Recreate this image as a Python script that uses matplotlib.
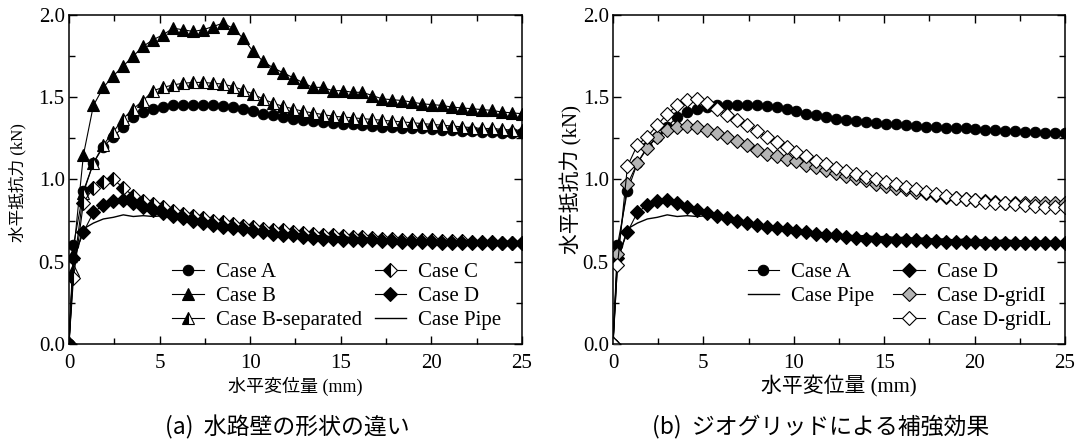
import matplotlib
matplotlib.use("Agg")
import matplotlib.pyplot as plt
from matplotlib.lines import Line2D
from matplotlib.ticker import MultipleLocator

plt.rcParams['font.family'] = ['Liberation Serif', 'Noto Sans CJK JP']

# 水平変位量 (mm) : 共通の計測点
disp = [0.0, 0.25, 0.8, 1.35, 1.9, 2.45, 3.0, 3.55, 4.1, 4.65, 5.2, 5.75, 6.3, 6.85,
        7.4, 7.95, 8.5, 9.05, 9.6, 10.15, 10.7, 11.25, 11.8, 12.35, 12.9, 13.45,
        14.0, 14.55, 15.1, 15.65, 16.2, 16.75, 17.3, 17.85, 18.4, 18.95, 19.5,
        20.05, 20.6, 21.15, 21.7, 22.25, 22.8, 23.35, 23.9, 24.45, 25.0]

# 水平抵抗力 (kN)
case_a = [0.0, 0.60, 0.93, 1.10, 1.20, 1.26, 1.32, 1.38, 1.41, 1.43, 1.44, 1.45, 1.45,
          1.455, 1.455, 1.45, 1.445, 1.44, 1.43, 1.415, 1.40, 1.39, 1.38, 1.37, 1.36,
          1.355, 1.35, 1.345, 1.34, 1.335, 1.33, 1.325, 1.32, 1.32, 1.315, 1.31, 1.31,
          1.305, 1.30, 1.30, 1.295, 1.295, 1.29, 1.29, 1.285, 1.285, 1.28]
case_b = [0.0, 0.55, 1.15, 1.45, 1.56, 1.63, 1.69, 1.75, 1.81, 1.85, 1.88, 1.92, 1.91,
          1.90, 1.91, 1.93, 1.95, 1.92, 1.86, 1.78, 1.72, 1.68, 1.65, 1.62, 1.59, 1.56,
          1.56, 1.54, 1.54, 1.53, 1.53, 1.51, 1.49, 1.485, 1.48, 1.47, 1.46, 1.455,
          1.45, 1.44, 1.435, 1.43, 1.425, 1.42, 1.41, 1.405, 1.40]
case_b_sep = [0.0, 0.45, 0.92, 1.10, 1.21, 1.29, 1.37, 1.43, 1.48, 1.54, 1.56, 1.575,
              1.585, 1.59, 1.59, 1.585, 1.58, 1.565, 1.545, 1.52, 1.49, 1.465, 1.445,
              1.43, 1.415, 1.405, 1.395, 1.385, 1.38, 1.375, 1.37, 1.365, 1.36, 1.355,
              1.35, 1.345, 1.34, 1.335, 1.33, 1.325, 1.32, 1.315, 1.31, 1.31, 1.305,
              1.30, 1.30]
case_c = [0.0, 0.40, 0.86, 0.95, 0.985, 1.00, 0.95, 0.90, 0.87, 0.85, 0.83, 0.81, 0.79,
          0.78, 0.765, 0.75, 0.74, 0.73, 0.72, 0.71, 0.70, 0.695, 0.69, 0.68, 0.675,
          0.67, 0.665, 0.66, 0.655, 0.65, 0.65, 0.645, 0.64, 0.64, 0.635, 0.635, 0.63,
          0.63, 0.625, 0.625, 0.625, 0.62, 0.62, 0.62, 0.615, 0.615, 0.615]
case_d = [0.0, 0.52, 0.68, 0.80, 0.845, 0.87, 0.875, 0.855, 0.835, 0.815, 0.795, 0.78,
          0.765, 0.75, 0.735, 0.725, 0.71, 0.705, 0.70, 0.685, 0.68, 0.67, 0.665, 0.66,
          0.65, 0.645, 0.64, 0.64, 0.635, 0.635, 0.63, 0.63, 0.625, 0.625, 0.62, 0.62,
          0.62, 0.62, 0.615, 0.615, 0.615, 0.615, 0.615, 0.615, 0.615, 0.615, 0.615]
case_pipe = [0.0, 0.50, 0.70, 0.735, 0.76, 0.77, 0.785, 0.775, 0.78, 0.775, 0.78, 0.765,
             0.76, 0.75, 0.735, 0.72, 0.71, 0.705, 0.695, 0.69, 0.685, 0.675, 0.675,
             0.665, 0.665, 0.655, 0.66, 0.65, 0.655, 0.645, 0.65, 0.64, 0.645, 0.635,
             0.64, 0.63, 0.64, 0.63, 0.635, 0.625, 0.635, 0.625, 0.63, 0.62, 0.63, 0.62,
             0.625]
case_d_grid_i = [0.0, 0.55, 0.97, 1.10, 1.19, 1.26, 1.30, 1.32, 1.325, 1.32, 1.30, 1.28,
                 1.26, 1.235, 1.21, 1.18, 1.155, 1.14, 1.125, 1.11, 1.09, 1.075, 1.055,
                 1.04, 1.02, 1.01, 0.995, 0.975, 0.96, 0.95, 0.94, 0.925, 0.915, 0.905,
                 0.895, 0.885, 0.88, 0.875, 0.87, 0.865, 0.86, 0.86, 0.86, 0.855, 0.855,
                 0.855, 0.855]
case_d_grid_l = [0.0, 0.48, 1.08, 1.21, 1.26, 1.33, 1.40, 1.45, 1.485, 1.49, 1.465, 1.43,
                 1.395, 1.36, 1.33, 1.295, 1.26, 1.23, 1.195, 1.165, 1.14, 1.115, 1.095,
                 1.07, 1.05, 1.035, 1.015, 1.0, 0.985, 0.97, 0.955, 0.94, 0.925, 0.91,
                 0.90, 0.89, 0.88, 0.875, 0.865, 0.86, 0.855, 0.85, 0.845, 0.84, 0.835,
                 0.835, 0.83]

line_kw = dict(color='black', lw=0.8, mec='black', mew=0.8)
leg_kw = dict(ncol=2, frameon=False, fontsize=15, handlelength=1.5, handletextpad=0.6,
              labelspacing=0.22, borderaxespad=0.25, loc='lower right')

fig = plt.figure(figsize=(10.79, 4.41), dpi=100)
ax1 = fig.add_axes([0.0639, 0.22, 0.4198, 0.746])
ax2 = fig.add_axes([0.5681, 0.22, 0.4189, 0.746])

# (a) 水路壁の形状の違い
ax1.plot(disp, case_a, marker='o', ms=7.5, mfc='black', label='Case A', **line_kw)
ax1.plot(disp, case_b, marker='^', ms=9, mfc='black', label='Case B', **line_kw)
ax1.plot(disp, case_b_sep, marker='^', ms=9, mfc='black', fillstyle='left',
         markerfacecoloralt='white', label='Case B-separated', **line_kw)
ax1.plot(disp, case_c, marker='D', ms=7, mfc='black', fillstyle='left',
         markerfacecoloralt='white', label='Case C', **line_kw)
ax1.plot(disp, case_d, marker='D', ms=7, mfc='black', label='Case D', **line_kw)
ax1.plot(disp, case_pipe, color='black', lw=1.0, label='Case Pipe')
ax1.legend(columnspacing=0.6, bbox_to_anchor=(0.985, 0.0), **leg_kw)

# (b) ジオグリッドによる補強効果
h_a, = ax2.plot(disp, case_a, marker='o', ms=7.5, mfc='black', **line_kw)
h_pipe, = ax2.plot(disp, case_pipe, color='black', lw=1.0)
h_d, = ax2.plot(disp, case_d, marker='D', ms=7, mfc='black', **line_kw)
h_i, = ax2.plot(disp, case_d_grid_i, marker='D', ms=7, mfc='#b4b4b4', **line_kw)
h_l, = ax2.plot(disp, case_d_grid_l, marker='D', ms=7, mfc='white', **line_kw)
blank = Line2D([], [], linestyle='none')
ax2.legend([h_a, h_pipe, blank, h_d, h_i, h_l],
           ['Case A', 'Case Pipe', '', 'Case D', 'Case D-gridI', 'Case D-gridL'],
           columnspacing=0.9, bbox_to_anchor=(1.0, 0.0), **leg_kw)

for ax in (ax1, ax2):
    ax.set_xlim(0, 25)
    ax.set_ylim(0, 2.0)
    ax.xaxis.set_major_locator(MultipleLocator(5))
    ax.xaxis.set_minor_locator(MultipleLocator(2.5))
    ax.yaxis.set_major_locator(MultipleLocator(0.5))
    ax.yaxis.set_minor_locator(MultipleLocator(0.25))
    ax.yaxis.set_major_formatter(plt.FormatStrFormatter('%.1f'))
    ax.tick_params(which='both', direction='in', top=True, right=True, width=1.0)
    ax.tick_params(which='major', length=6, labelsize=15)
    ax.tick_params(which='minor', length=4)
    ax.tick_params(axis='x', pad=7)
    ax.tick_params(axis='y', pad=3)
    for lab in ax.get_xticklabels() + ax.get_yticklabels():
        lab.set_fontfamily('Liberation Serif')
    for s in ax.spines.values():
        s.set_linewidth(1.1)

ax1.set_xlabel('水平変位量 (mm)', fontsize=13)
ax1.set_ylabel('水平抵抗力 (kN)', fontsize=12)
ax2.set_xlabel('水平変位量 (mm)', fontsize=15)
ax2.set_ylabel('水平抵抗力 (kN)', fontsize=15)
ax1.xaxis.set_label_coords(0.5, -0.10)
ax2.xaxis.set_label_coords(0.5, -0.095)
ax1.yaxis.set_label_coords(-0.095, 0.49)
ax2.yaxis.set_label_coords(-0.067, 0.5)

fig.text(0.266, 0.032, '(a)  水路壁の形状の違い', ha='center', va='center',
         fontsize=16.5, family=['Noto Sans CJK JP'])
fig.text(0.761, 0.032, '(b)  ジオグリッドによる補強効果', ha='center', va='center',
         fontsize=16.5, family=['Noto Sans CJK JP'])

fig.savefig('out.png', dpi=100)
